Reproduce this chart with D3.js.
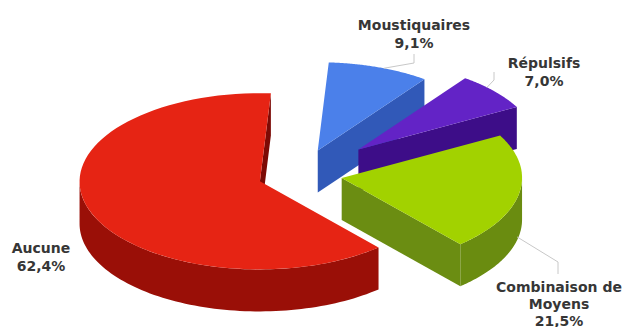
<!DOCTYPE html>
<html>
<head>
<meta charset="utf-8">
<script src="https://cdn.jsdelivr.net/npm/d3@7"></script>
<style>
  html, body { margin: 0; padding: 0; background: #ffffff; }
  svg { display: block; }
  .lbl { font-family: "DejaVu Sans", Verdana, sans-serif; font-weight: bold; font-size: 14px; fill: #363636; }
</style>
</head>
<body>
<svg id="chart" width="626" height="327"></svg>
<script>
// Slices, clockwise from 12 o'clock
const categories = ["Moustiquaires", "Répulsifs", "Combinaison de Moyens", "Aucune"];
const values = [9.1, 7.0, 21.5, 62.4];
const valueLabels = ["9,1%", "7,0%", "21,5%", "62,4%"];

// Label text lines per slice
const labelLines = [
  ["Moustiquaires", "9,1%"],
  ["Répulsifs", "7,0%"],
  ["Combinaison de", "Moyens", "21,5%"],
  ["Aucune", "62,4%"]
];

// ---- styling / layout ----
const topColors  = ["#4b80ea", "#6323c6", "#a2d200", "#e62414"];
const sideColors = ["#2e57b4", "#3b0c84", "#6a8c10", "#9a0f07"];
const cutColors  = ["#3159b8", "#3d0d88", "#6b8d12", "#7c0a05"];
const explode    = [0.29, 0.43, 0.235, 0.235];   // in radius units

// Oblique projection of the pie plane: u = right, v = back
const P = { cx: 300, cy: 174.5, ax: 180, ay: 5, bx: 11, by: -88, depth: 42 };

// Label placement (anchor x, first baseline, line height) and leader lines
const labelLayout = [
  { x: 414, y: 30,  lh: 18, leader: { angle: 18,  h: 0,    bend: [414, 63], end: [414, 54] } },
  { x: 544, y: 68,  lh: 18, leader: { angle: 42,  h: 0,    bend: [494, 80], end: [494, 72] } },
  { x: 559, y: 292, lh: 17, leader: { angle: 100, h: 0.92, bend: [558, 262], end: [558, 274] } },
  { x: 41,  y: 253, lh: 18, leader: null }
];

const svg = d3.select("#chart");

function proj(u, v, h) {
  return [P.cx + P.ax * u + P.bx * v, P.cy + P.ay * u + P.by * v + h * P.depth];
}

const arcs = d3.pie().sort(null).value(d => d)(values);

const line = d3.line();
const N = 80;

const slices = arcs.map((a, i) => {
  const mid = (a.startAngle + a.endAngle) / 2;
  const ou = explode[i] * Math.sin(mid), ov = explode[i] * Math.cos(mid);
  const pt = (t, h, r = 1) => proj(ou + r * Math.sin(t), ov + r * Math.cos(t), h);
  const sample = (t0, t1) => d3.range(N + 1).map(k => t0 + (t1 - t0) * k / N);
  return { i, a, mid, ou, ov, pt, sample, key: (explode[i] + 0.6) * Math.cos(mid) };
});

// silhouette of the rim: front half between t1 and t1 + PI
const tSil = Math.atan2(P.ax, P.bx);
const visLo = tSil, visHi = tSil + Math.PI;

function cross(a, b) { return a[0] * b[1] - a[1] * b[0]; }

function cutVisible(t, sign) {
  // sign = +1 for the start face (interior is clockwise), -1 for the end face
  const E = [P.ax * Math.sin(t) + P.bx * Math.cos(t), P.ay * Math.sin(t) + P.by * Math.cos(t)];
  const W = [P.ax * Math.cos(t) - P.bx * Math.sin(t), P.ay * Math.cos(t) - P.by * Math.sin(t)];
  const ci = sign * cross(E, W);
  const cd = cross(E, [0, 1]);
  return ci * cd < 0;
}

// draw back to front
slices.sort((p, q) => q.key - p.key);

slices.forEach(s => {
  const g = svg.append("g").attr("class", "slice");
  const { a, pt, sample, i } = s;
  const apexT = proj(s.ou, s.ov, 0), apexB = proj(s.ou, s.ov, 1);

  // radial cut faces
  [[a.startAngle, +1], [a.endAngle, -1]].forEach(([t, sg]) => {
    if (!cutVisible(t, sg)) return;
    g.append("path")
      .attr("d", line([apexT, pt(t, 0), pt(t, 1), apexB]) + "Z")
      .attr("fill", cutColors[i]);
  });

  // outer rim, visible part
  const r0 = Math.max(a.startAngle, visLo), r1 = Math.min(a.endAngle, visHi);
  if (r1 > r0) {
    const ts = sample(r0, r1);
    const pts = ts.map(t => pt(t, 0)).concat(ts.slice().reverse().map(t => pt(t, 1)));
    g.append("path").attr("d", line(pts) + "Z").attr("fill", sideColors[i]);
  }

  // top face
  const topPts = [apexT].concat(sample(a.startAngle, a.endAngle).map(t => pt(t, 0)));
  g.append("path").attr("d", line(topPts) + "Z").attr("fill", topColors[i]);
});

// leader lines and labels
const byIndex = {};
slices.forEach(s => { byIndex[s.i] = s; });

labelLayout.forEach((L, i) => {
  if (L.leader) {
    const s = byIndex[i];
    const start = s.pt(L.leader.angle * Math.PI / 180, L.leader.h);
    svg.append("path")
      .attr("d", line([start, L.leader.bend, L.leader.end]))
      .attr("fill", "none")
      .attr("stroke", "#c8c8c8")
      .attr("stroke-width", 1);
  }
  const t = svg.append("text").attr("class", "lbl").attr("text-anchor", "middle");
  labelLines[i].forEach((txt, k) => {
    t.append("tspan").attr("x", L.x).attr("y", L.y + k * L.lh).text(txt);
  });
});
</script>
</body>
</html>
